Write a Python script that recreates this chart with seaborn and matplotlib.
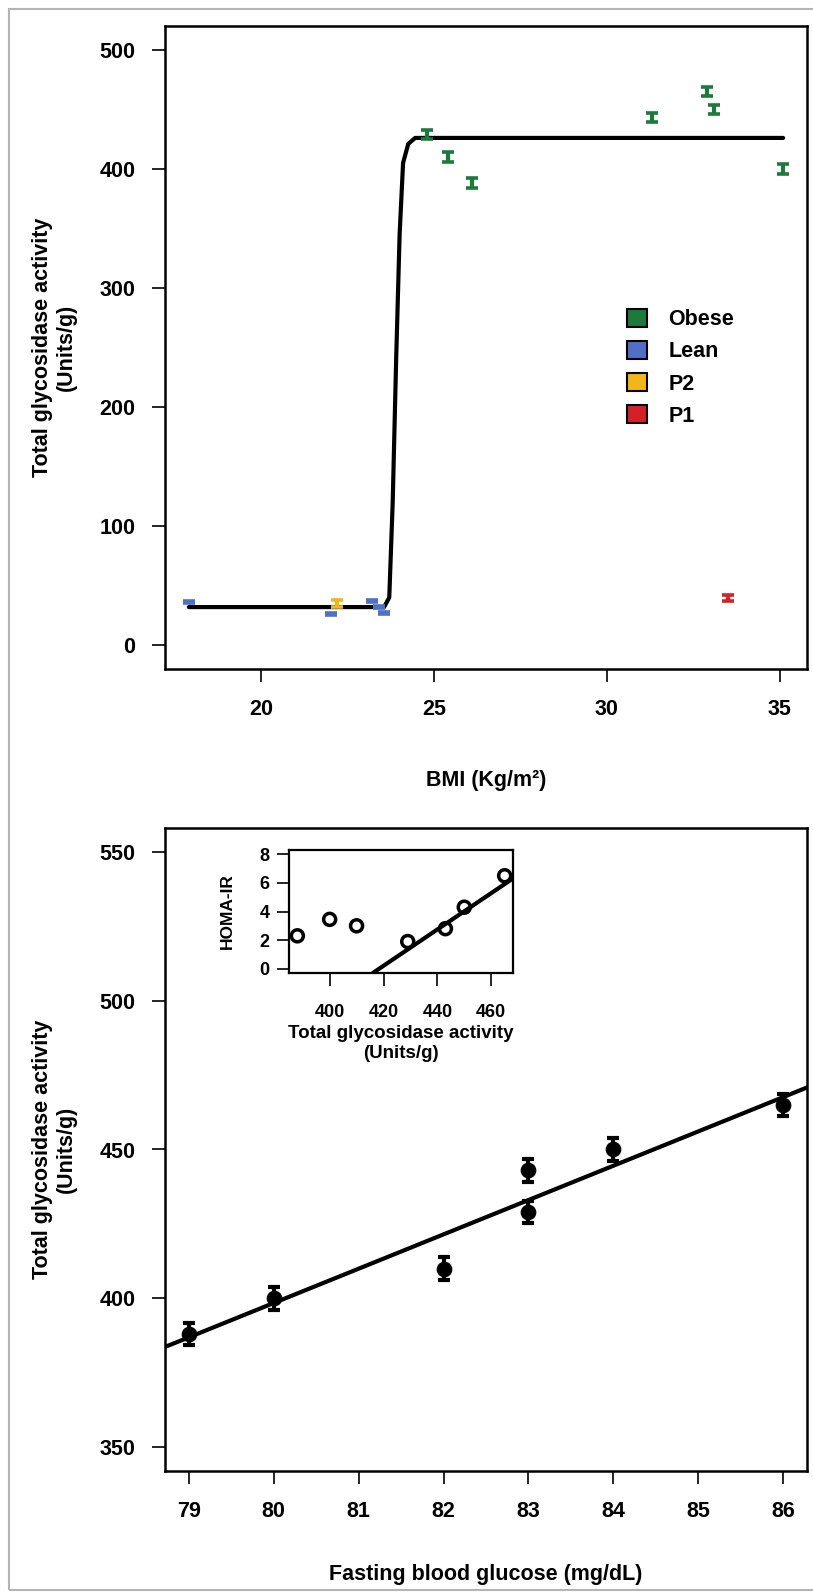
import numpy as np
import pandas as pd
import seaborn as sns
import matplotlib.pyplot as plt
from matplotlib import font_manager
from matplotlib.patches import Patch, Rectangle

# top panel: BMI vs total glycosidase activity
obese_bmi = [24.8, 25.4, 26.1, 31.3, 32.9, 33.1, 35.1]
obese_act = [429, 410, 388, 443, 465, 450, 400]
obese_err = [4, 4, 4, 4, 4, 4, 4]
lean_bmi = [17.9, 22.0, 23.2, 23.4, 23.55]
lean_act = [36, 26, 37, 32, 27]
lean_err = [0.8, 0.8, 0.8, 0.8, 0.8]
p2_bmi = [22.2]
p2_act = [35]
p2_err = [3]
p1_bmi = [33.5]
p1_act = [40]
p1_err = [2.5]

# fitted curve
curve_bmi = [17.9, 23.55, 23.7, 23.8, 23.9, 24.0, 24.1, 24.25, 24.45, 35.1]
curve_act = [32, 32, 40, 120, 240, 345, 405, 421, 426, 426]

# bottom panel: fasting glucose vs activity
glucose = [79, 80, 82, 83, 83, 84, 86]
activity = [388, 400, 410, 429, 443, 450, 465]
activity_err = [3.8, 3.8, 3.8, 3.8, 3.8, 3.8, 3.8]

# inset: activity vs HOMA-IR
homa = [2.3, 3.45, 3.0, 1.9, 2.8, 4.3, 6.5]
inset_slope = 0.127
inset_x0 = 418.4

colors = {'Obese': '#1b7a3c', 'Lean': '#4f70c6', 'P2': '#f2b51c', 'P1': '#d52027'}

sns.set_theme(style='ticks')
names = {f.name for f in font_manager.fontManager.ttflist}
fam = 'Liberation Sans Narrow' if 'Liberation Sans Narrow' in names else 'Liberation Sans'
plt.rcParams['font.family'] = [fam, 'DejaVu Sans']
plt.rcParams['font.weight'] = 'bold'
plt.rcParams['axes.labelweight'] = 'bold'
plt.rcParams['text.color'] = 'black'
plt.rcParams['axes.labelcolor'] = 'black'

W, H = 813, 1593
fig = plt.figure(figsize=(W / 100, H / 100), dpi=100)

def px_axes(l, t, r, b):
    return fig.add_axes([l / W, 1 - b / H, (r - l) / W, (b - t) / H])

def style(ax, size, lw=1.8, tl=9.5, xpad=12, ypad=12):
    for s in ax.spines.values():
        s.set_linewidth(lw)
        s.set_color('black')
    ax.tick_params(direction='out', length=tl, width=1.2, labelsize=size, colors='black')
    ax.tick_params(axis='x', pad=xpad)
    ax.tick_params(axis='y', pad=ypad)
    for lab in ax.get_xticklabels() + ax.get_yticklabels():
        lab.set_fontweight('bold')

# ---- top panel
ax1 = px_axes(165, 26, 807, 669)
sns.lineplot(x=curve_bmi, y=curve_act, color='black', lw=3, sort=False, estimator=None, ax=ax1)
groups = [('Lean', lean_bmi, lean_act, lean_err),
          ('P2', p2_bmi, p2_act, p2_err),
          ('P1', p1_bmi, p1_act, p1_err),
          ('Obese', obese_bmi, obese_act, obese_err)]
for name, x, y, e in groups:
    ax1.errorbar(x, y, yerr=e, fmt='none', ecolor=colors[name], elinewidth=3,
                 capsize=4, capthick=2.6, zorder=3)
ax1.set_xlim(17.21, 35.79)
ax1.set_ylim(-20, 520)
ax1.set_xticks([20, 25, 30, 35])
ax1.set_yticks([0, 100, 200, 300, 400, 500])
style(ax1, 15.5)
ax1.set_xlabel('BMI (Kg/m²)', fontsize=15.5, labelpad=36)
ax1.set_ylabel('Total glycosidase activity\n(Units/g)', fontsize=15.5, labelpad=16)
handles = [Patch(facecolor=colors[k], edgecolor='black', lw=1.5, label=k)
           for k in ['Obese', 'Lean', 'P2', 'P1']]
ax1.legend(handles=handles, loc='upper left', bbox_to_anchor=(0.69, 0.59), frameon=False,
           prop={'size': 15.5, 'weight': 'bold'}, handlelength=0.9, handleheight=0.9,
           handletextpad=1.0, labelspacing=0.5)

# ---- bottom panel
ax2 = px_axes(165, 828, 807, 1471)
ax2.set_xlim(78.72, 86.28)
ax2.set_ylim(342, 558)
df = pd.DataFrame({'glucose': glucose, 'activity': activity})
sns.regplot(data=df, x='glucose', y='activity', scatter=False, ci=None, truncate=False,
            line_kws={'color': 'black', 'lw': 3}, ax=ax2)
ax2.errorbar(glucose, activity, yerr=activity_err, fmt='none', ecolor='black', elinewidth=3,
             capsize=4.5, capthick=3, zorder=3)
sns.scatterplot(data=df, x='glucose', y='activity', color='black', s=110, edgecolor='black',
                zorder=4, ax=ax2)
ax2.set_xlim(78.72, 86.28)
ax2.set_ylim(342, 558)
ax2.set_xticks(range(79, 87))
ax2.set_yticks([350, 400, 450, 500, 550])
style(ax2, 15.5)
ax2.set_xlabel('Fasting blood glucose (mg/dL)', fontsize=15.5, labelpad=30)
ax2.set_ylabel('Total glycosidase activity\n(Units/g)', fontsize=15.5, labelpad=16)

# ---- inset
axi = px_axes(289, 850, 513, 973)
axi.set_xlim(384.9, 468.1)
axi.set_ylim(-0.3, 8.3)
axi.axline((inset_x0, 0), slope=inset_slope, color='black', lw=3)
sns.scatterplot(x=activity, y=homa, marker='o', s=75, facecolor='none', edgecolor='black',
                linewidth=2.5, ax=axi, zorder=3)
axi.set_xticks([400, 420, 440, 460])
axi.set_yticks([0, 2, 4, 6, 8])
style(axi, 13, lw=1.6, tl=9, xpad=13, ypad=5)
axi.set_xlabel('Total glycosidase activity\n(Units/g)', fontsize=13.5, labelpad=3, linespacing=1.25)
axi.set_ylabel('HOMA-IR', fontsize=12.5, labelpad=18)

# grey frame around the figure
fig.patches.append(Rectangle((9 / W, 3 / H), 1.0, 1 - 12 / H, transform=fig.transFigure,
                             fill=False, edgecolor='#b4b4b4', lw=1.5))

fig.savefig('out.png', dpi=100)
